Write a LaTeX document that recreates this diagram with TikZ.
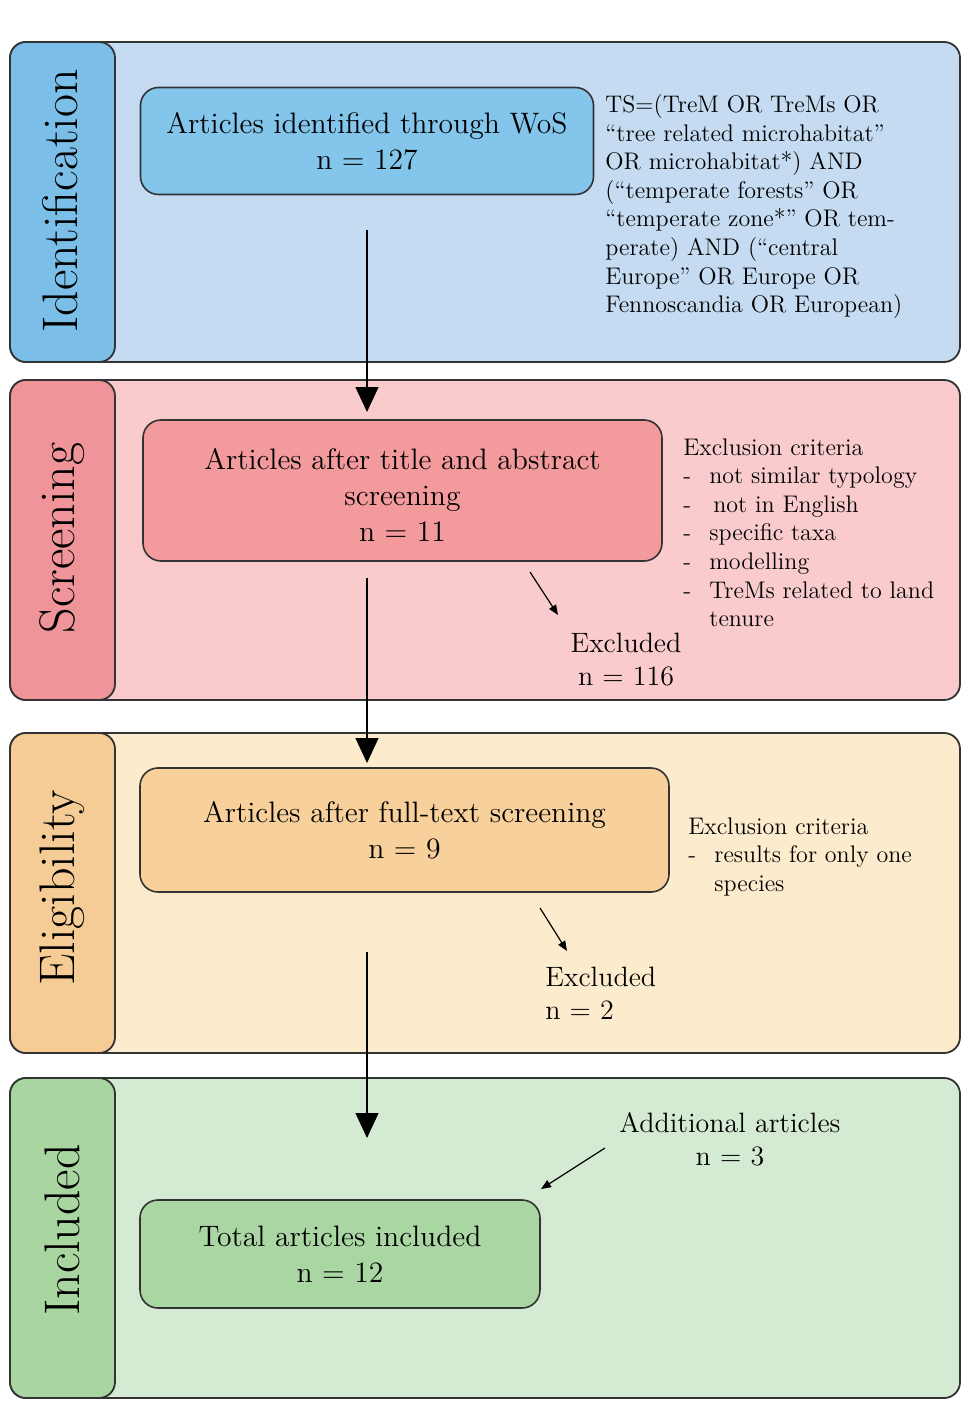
\documentclass[tikz,border=0pt]{standalone}
\usepackage{xcolor}
\usepackage{tikz}
\usetikzlibrary{arrows.meta}
\definecolor{idback}{HTML}{C4DBF1}
\definecolor{idtab}{HTML}{7BBFE9}
\definecolor{idbox}{HTML}{84C5EC}
\definecolor{scback}{HTML}{F9CBCD}
\definecolor{sctab}{HTML}{EF9498}
\definecolor{scbox}{HTML}{F29A9C}
\definecolor{elback}{HTML}{FDEBCD}
\definecolor{eltab}{HTML}{F5CC95}
\definecolor{elbox}{HTML}{F7D09C}
\definecolor{inback}{HTML}{D5EAD2}
\definecolor{intab}{HTML}{A9D5A1}
\definecolor{inbox}{HTML}{A9D6A3}
\tikzstyle{panel}=[draw=black!80, line width=0.9pt, rounded corners=8pt]
\tikzstyle{tab label}=[rotate=90, font=\fontsize{25}{30}\selectfont]
\tikzstyle{box}=[draw=black!80, line width=0.8pt, rounded corners=9pt, align=center, font=\fontsize{14.8}{18}\selectfont]
\tikzstyle{note}=[align=left, inner sep=0, anchor=north west, font=\fontsize{12}{14.3}\selectfont]
\tikzstyle{count}=[align=center, inner sep=0, font=\fontsize{14}{16.5}\selectfont]
\tikzstyle{flow edge}=[-{Triangle[length=12.5pt,width=11.5pt]}, line width=0.6pt]
\tikzstyle{side edge}=[-{Triangle[length=5pt,width=4pt]}, line width=0.6pt]
\newcommand{\crit}[1]{\makebox[13pt][l]{-}#1}
\pgfdeclarelayer{panellayer}
\pgfdeclarelayer{edgelayer}
\pgfdeclarelayer{nodelayer}
\pgfsetlayers{panellayer,edgelayer,nodelayer,main}

\begin{document}
\begin{tikzpicture}[x=0.5pt, y=-0.5pt]
	\useasboundingbox (0,0) rectangle (975,1418);
	\begin{pgfonlayer}{panellayer}
		\draw [style=panel, fill=idback] (10,42) rectangle (960,362);
		\draw [style=panel, fill=idtab] (10,42) rectangle (115,362);
		\draw [style=panel, fill=scback] (10,380) rectangle (960,700);
		\draw [style=panel, fill=sctab] (10,380) rectangle (115,700);
		\draw [style=panel, fill=elback] (10,733) rectangle (960,1053);
		\draw [style=panel, fill=eltab] (10,733) rectangle (115,1053);
		\draw [style=panel, fill=inback] (10,1078) rectangle (960,1398);
		\draw [style=panel, fill=intab] (10,1078) rectangle (115,1398);
	\end{pgfonlayer}
	\begin{pgfonlayer}{nodelayer}
		\node [style=tab label] (t0) at (60,201) {Identification};
		\node [style=tab label] (t1) at (62,538) {Screening};
		\node [style=tab label] (t2) at (62,888) {Eligibility};
		\node [style=tab label] (t3) at (62,1230) {Included};
		\node [style=box, fill=idbox, minimum width=226.5pt, minimum height=53.5pt] (0) at (367,141) {Articles identified through WoS\\n = 127};
		\node [style=note] (1) at (605,94) {TS=(TreM OR TreMs OR\\``tree related microhabitat''\\OR microhabitat*) AND\\(``temperate forests'' OR\\``temperate zone*'' OR tem-\\perate) AND (``central\\Europe'' OR Europe OR\\Fennoscandia OR European)};
		\node [style=box, fill=scbox, minimum width=259.5pt, minimum height=70.5pt] (2) at (402.5,490.5) {\rule{0pt}{15pt}Articles after title and abstract\\screening\\n = 11};
		\node [style=note] (3) at (683,438) {Exclusion criteria\\\crit{not similar typology}\\\crit{\hspace{2pt}not in English}\\\crit{specific taxa}\\\crit{modelling}\\\crit{TreMs related to land}\\\hspace{13pt}tenure};
		\node [style=count] (4) at (626,660) {Excluded\\n = 116};
		\node [style=box, fill=elbox, minimum width=264.5pt, minimum height=62pt] (5) at (404.5,830) {Articles after full-text screening\\n = 9};
		\node [style=note] (6) at (688,817) {Exclusion criteria\\\crit{results for only one}\\\hspace{13pt}species};
		\node [style=count, align=left, anchor=west] (7) at (545,993) {Excluded\\n = 2};
		\node [style=box, fill=inbox, minimum width=200pt, minimum height=54pt] (8) at (340,1254) {Total articles included\\n = 12};
		\node [style=count] (9) at (730,1139) {Additional articles\\n = 3};
		\coordinate (a0) at (367,230);
		\coordinate (a1) at (367,412);
		\coordinate (a2) at (367,578);
		\coordinate (a3) at (367,763);
		\coordinate (a4) at (367,952);
		\coordinate (a5) at (367,1138);
		\coordinate (s0) at (530,572);
		\coordinate (s1) at (558,615);
		\coordinate (s2) at (540,908);
		\coordinate (s3) at (567,951);
		\coordinate (s4) at (605,1148);
		\coordinate (s5) at (541,1189);
	\end{pgfonlayer}
	\begin{pgfonlayer}{edgelayer}
		\draw [style=flow edge] (a0) to (a1);
		\draw [style=flow edge] (a2) to (a3);
		\draw [style=flow edge] (a4) to (a5);
		\draw [style=side edge] (s0) to (s1);
		\draw [style=side edge] (s2) to (s3);
		\draw [style=side edge] (s4) to (s5);
	\end{pgfonlayer}
\end{tikzpicture}
\end{document}
